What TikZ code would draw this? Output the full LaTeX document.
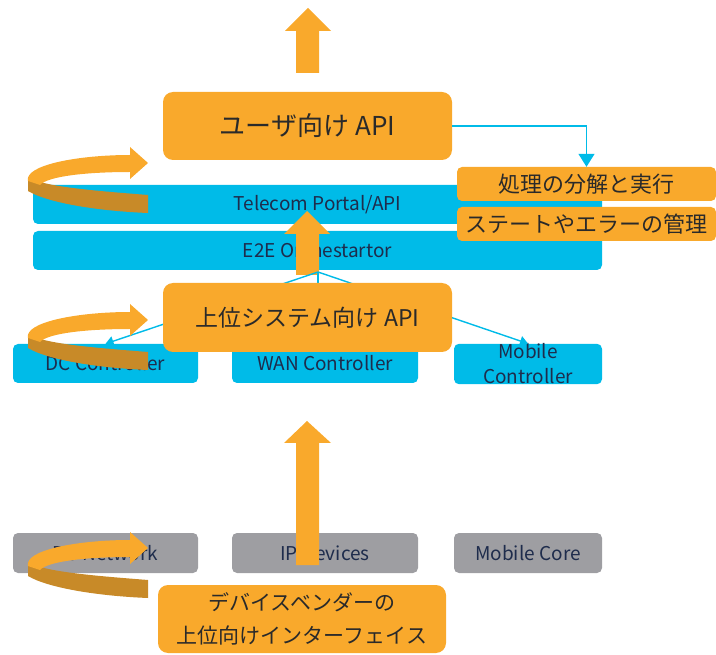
\documentclass[tikz,border=0pt]{standalone}
\usepackage{fontspec}
\setmainfont{Noto Sans CJK JP}
\usetikzlibrary{arrows.meta}
\definecolor{cOrange}{HTML}{F9A92C}
\definecolor{cDark}{HTML}{C88A28}
\definecolor{cBlue}{HTML}{00BBE8}
\definecolor{cGray}{HTML}{9E9EA2}
\definecolor{cNavy}{HTML}{1E2C4C}
\definecolor{cText}{HTML}{2A2A2A}
\tikzset{
  bluebox/.style={fill=cBlue, rounded corners=5pt, inner sep=0pt, text=cNavy, font=\fontsize{19}{24}\selectfont},
  graybox/.style={fill=cGray, rounded corners=5pt, inner sep=0pt, text=cNavy, font=\fontsize{19}{24}\selectfont},
  orbox/.style={fill=cOrange, rounded corners=10pt, inner sep=0pt, text=cText, font=\fontsize{23}{32}\selectfont},
  tagbox/.style={fill=cOrange, rounded corners=5pt, inner sep=0pt, text=cText, font=\fontsize{22}{28}\selectfont},
  thinarrow/.style={draw=cBlue, line width=1.4pt},
  swirl/.pic={
    \fill[cDark] (0,32) .. controls (-50,28) and (-105,24) .. (-120,14) -- (-120,28) .. controls (-100,40) and (-50,48) .. (0,50) -- cycle;
    \fill[cOrange] (-120,18) .. controls (-124,2) and (-70,-8) .. (-18,-8) -- (-18,-16) -- (0,0) -- (-18,16) -- (-18,9) .. controls (-60,9) and (-100,13) .. (-108,22) -- cycle;
  }
}
\begin{document}
\begin{tikzpicture}[x=1pt,y=-1pt]
\useasboundingbox (0,0) rectangle (716,655);
% top big arrow
\fill[cOrange] (296,73) -- (296,31) -- (285,31) -- (308,8) -- (331,31) -- (319,31) -- (319,73) -- cycle;
% blue layers
\node[bluebox, minimum width=569pt, minimum height=39pt] (tel) at (317.5,204.5) {Telecom Portal/API};
\node[bluebox, minimum width=569pt, minimum height=39pt] (e2e) at (317.5,250.5) {E2E Orchestartor};
% tags
\node[tagbox, minimum width=259pt, minimum height=34pt] (proc) at (586.5,184) {処理の分解と実行};
\node[tagbox, minimum width=259pt, minimum height=34pt] (state) at (586.5,224) {ステートやエラーの管理};
% user API
\node[orbox, font=\fontsize{26}{32}\selectfont, minimum width=289pt, minimum height=68pt] (user) at (307.5,126) {ユーザ向け API};
\draw[thinarrow, -{Triangle[width=16pt,length=13pt]}] (user.east) -| (proc.north);
% small arrow up into orchestrator
\fill[cOrange] (296,275) -- (296,234) -- (284,234) -- (307,211) -- (330,234) -- (319,234) -- (319,275) -- cycle;
% controllers
\node[bluebox, minimum width=185pt, minimum height=39pt] (dcc) at (105.5,363.5) {DC Controller};
\node[bluebox, minimum width=186pt, minimum height=39pt] (wan) at (325,363.5) {WAN Controller};
\node[bluebox, minimum width=148pt, minimum height=39pt, align=center, font=\fontsize{19}{25}\selectfont] (mob) at (528,364) {Mobile\\Controller};
\coordinate (apex) at (318,272);
\draw[thinarrow, -{Triangle[width=10pt,length=8pt]}] (apex) -- (dcc.north);
\draw[thinarrow] (apex) -- (apex |- wan.north);
\draw[thinarrow, -{Triangle[width=10pt,length=8pt]}] (apex) -- (mob.north);
% upper API
\node[orbox, minimum width=289pt, minimum height=69pt] (upper) at (307.5,317.5) {上位システム向け API};
% swirls
\pic at (148,163) {swirl};
\pic at (148,320) {swirl};
% bottom devices
\node[graybox, minimum width=185pt, minimum height=40pt] (dcn) at (105.5,553) {DC Network};
\node[graybox, minimum width=186pt, minimum height=40pt] (ipd) at (325,553) {IP Devices};
\node[graybox, minimum width=148pt, minimum height=40pt] (mcore) at (528,553) {Mobile Core};
% bottom big arrow
\fill[cOrange] (296,565) -- (296,443) -- (284,443) -- (307,421) -- (331,443) -- (319,443) -- (319,565) -- cycle;
\pic at (148,548) {swirl};
\node[orbox, align=center, minimum width=288pt, minimum height=68pt, font=\fontsize{21}{33}\selectfont] (vendor) at (302,619) {デバイスベンダーの\\上位向けインターフェイス};
\end{tikzpicture}
\end{document}
